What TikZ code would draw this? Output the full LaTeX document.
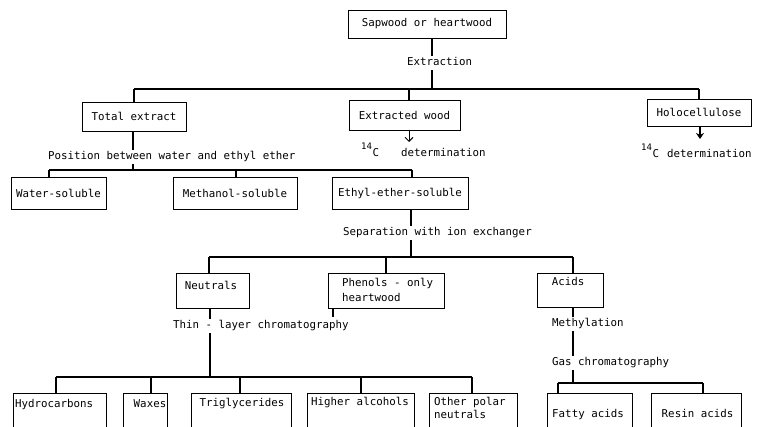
\documentclass[tikz,border=0pt]{standalone}
\usepackage{fontspec}
\setmonofont{DejaVu Sans Mono}
\usetikzlibrary{arrows.meta}
\begin{document}
\begin{tikzpicture}[x=1pt,y=-1pt,
  every node/.style={font=\ttfamily\fontsize{10.8}{15}\selectfont},
  box/.style={draw, line width=0.8pt, inner sep=0pt},
  lbl/.style={anchor=west, text height=8pt, text depth=2.5pt, inner xsep=1pt, inner ysep=2pt, fill=white},
  txt/.style={inner sep=0pt, text height=8pt, text depth=2.5pt},
  conn/.style={line width=1.2pt},
  hline/.style={line width=1.5pt}]
\useasboundingbox (0,0) rectangle (768,426);
\clip (0,0) rectangle (768,426);
\fill[white] (0,0) rectangle (768,426);

% ---- boxes with centred text
\node[box, minimum width=158pt, minimum height=28pt] (sap) at (427,24) {Sapwood or heartwood};
\node[box, minimum width=104pt, minimum height=29pt] (total) at (134,116.5) {Total extract};
\node[box, minimum width=111pt, minimum height=30pt] (ex) at (404.5,115) {Extracted wood};
\node[box, minimum width=104pt, minimum height=27pt] (holo) at (699,112.5) {Holocellulose};
\node[box, minimum width=95pt, minimum height=32pt] (water) at (58.5,193) {Water-soluble};
\node[box, minimum width=124pt, minimum height=32pt] (methb) at (235,193) {Methanol-soluble};
\node[box, minimum width=136pt, minimum height=32pt] (ethyl) at (400,193) {Ethyl-ether-soluble};

% ---- boxes with placed text
\node[box, minimum width=73pt, minimum height=35pt] (neut) at (212.5,290.5) {};
\node[txt] (tNeut) at (211,287) {Neutrals};
\node[box, minimum width=116pt, minimum height=35pt] (phen) at (386,290.5) {};
\node[txt, anchor=west] (tPhen1) at (342,284) {Phenols - only};
\node[txt, anchor=west] (tPhen2) at (342,299) {heartwood};
\node[box, minimum width=66pt, minimum height=34pt] (acids) at (570,290) {};
\node[txt] (tAcids) at (568,283) {Acids};

% ---- bottom boxes (open at the lower edge)
\node[box, minimum width=93pt, minimum height=47pt, anchor=north west] (hyd) at (13,393) {};
\node[box, minimum width=44pt, minimum height=47pt, anchor=north west] (wax) at (123,393) {};
\node[box, minimum width=100pt, minimum height=47pt, anchor=north west] (tri) at (191,393) {};
\node[box, minimum width=107pt, minimum height=47pt, anchor=north west] (hig) at (307,393) {};
\node[box, minimum width=88pt, minimum height=47pt, anchor=north west] (oth) at (429,393) {};
\node[box, minimum width=85pt, minimum height=47pt, anchor=north west] (fat) at (547,393) {};
\node[box, minimum width=90pt, minimum height=47pt, anchor=north west] (res) at (651,393) {};
\node[txt, anchor=west] (tHyd) at (15,405) {Hydrocarbons};
\node[txt] (tWax) at (150,405) {Waxes};
\node[txt] (tTri) at (242,404) {Triglycerides};
\node[txt] (tHig) at (360,403) {Higher alcohols};
\node[txt, anchor=west] (tOth1) at (434,403) {Other polar};
\node[txt, anchor=west] (tOth2) at (434,416) {neutrals};
\node[txt] (tFat) at (588,415) {Fatty acids};
\node[txt] (tRes) at (697.5,415) {Resin acids};

% ---- labels on connectors
\node[lbl] (lExt) at (406,63) {Extraction};
\node[lbl] (lPos) at (47,157) {Position between water and ethyl ether};
\node[lbl] (lSep) at (342,233) {Separation with ion exchanger};
\node[lbl] (lTlc) at (172,326) {Thin - layer chromatography};
\node[lbl] (lMeth) at (551,324) {Methylation};
\node[lbl] (lGas) at (551,363) {Gas chromatography};

% ---- 14C determination labels
\node[inner sep=0pt, anchor=base west] (c14a) at (361,156)
  {\raisebox{7pt}{\fontsize{9}{10}\selectfont 14}\kern0.5pt C\hspace{22pt}determination};
\node[inner sep=0pt, anchor=base west] (c14b) at (641,157)
  {\raisebox{7pt}{\fontsize{9}{10}\selectfont 14}\kern0.5pt C\hspace{8pt}determination};

% ---- coordinates
\coordinate (j1) at (432,89);
\coordinate (dEx) at (409,89);
\coordinate (aEx) at (409,142);
\coordinate (aHo) at (700,139);
\coordinate (j2) at (133,170);
\coordinate (dW) at (49,170);
\coordinate (dM) at (236,170);
\coordinate (dE) at (412,170);
\coordinate (j3) at (411,257);
\coordinate (dN) at (209,257);
\coordinate (dP) at (386,257);
\coordinate (dA) at (573,257);
\coordinate (j4) at (210,377);
\coordinate (pt) at (333,317);
\coordinate (b1) at (56,377);
\coordinate (b2) at (151,377);
\coordinate (b3) at (240,377);
\coordinate (b4) at (361,377);
\coordinate (b5) at (472,377);
\coordinate (j5) at (573,383);
\coordinate (f1) at (558,383);
\coordinate (f2) at (703,383);

% ---- tree 1
\draw[conn] (sap.south -| j1) -- (lExt.north -| j1);
\draw[conn] (lExt.south -| j1) -- (j1);
\draw[hline] (total.north |- j1) -- (holo.north |- j1);
\draw[conn] (total.north |- j1) -- (total.north);
\draw[conn] (dEx) -- (ex.north -| dEx);
\draw[conn] (holo.north |- j1) -- (holo.north);
\draw[line width=0.9pt, -{Straight Barb[length=4pt,width=8pt]}] (ex.south -| aEx) -- (aEx);
\draw[line width=1.8pt, -{Stealth[length=6pt,width=8pt]}] (holo.south -| aHo) -- (aHo);

% ---- tree 2
\draw[conn] (total.south -| j2) -- (lPos.north -| j2);
\draw[conn] (lPos.south -| j2) -- (j2);
\draw[hline] (dW) -- (dE);
\draw[conn] (dW) -- (water.north -| dW);
\draw[conn] (dM) -- (methb.north -| dM);
\draw[conn] (dE) -- (ethyl.north -| dE);

% ---- tree 3
\draw[conn] (ethyl.south -| j3) -- (lSep.north -| j3);
\draw[conn] (lSep.south -| j3) -- (j3);
\draw[hline] (dN) -- (dA);
\draw[conn] (dN) -- (neut.north -| dN);
\draw[conn] (dP) -- (phen.north -| dP);
\draw[conn] (dA) -- (acids.north -| dA);

% ---- tree 4
\draw[conn] (neut.south -| j4) -- (lTlc.north -| j4);
\draw[conn] (lTlc.south -| j4) -- (j4);
\draw[conn] (phen.south -| pt) -- (pt);
\draw[hline] (b1) -- (b5);
\draw[conn] (b1) -- (hyd.north -| b1);
\draw[conn] (b2) -- (wax.north -| b2);
\draw[conn] (b3) -- (tri.north -| b3);
\draw[conn] (b4) -- (hig.north -| b4);
\draw[conn] (b5) -- (oth.north -| b5);

% ---- tree 5
\draw[conn] (acids.south -| j5) -- (lMeth.north -| j5);
\draw[conn] (lMeth.south -| j5) -- (lGas.north -| j5);
\draw[conn] (lGas.south -| j5) -- (j5);
\draw[hline] (f1) -- (f2);
\draw[conn] (f1) -- (fat.north -| f1);
\draw[conn] (f2) -- (res.north -| f2);
\end{tikzpicture}
\end{document}
